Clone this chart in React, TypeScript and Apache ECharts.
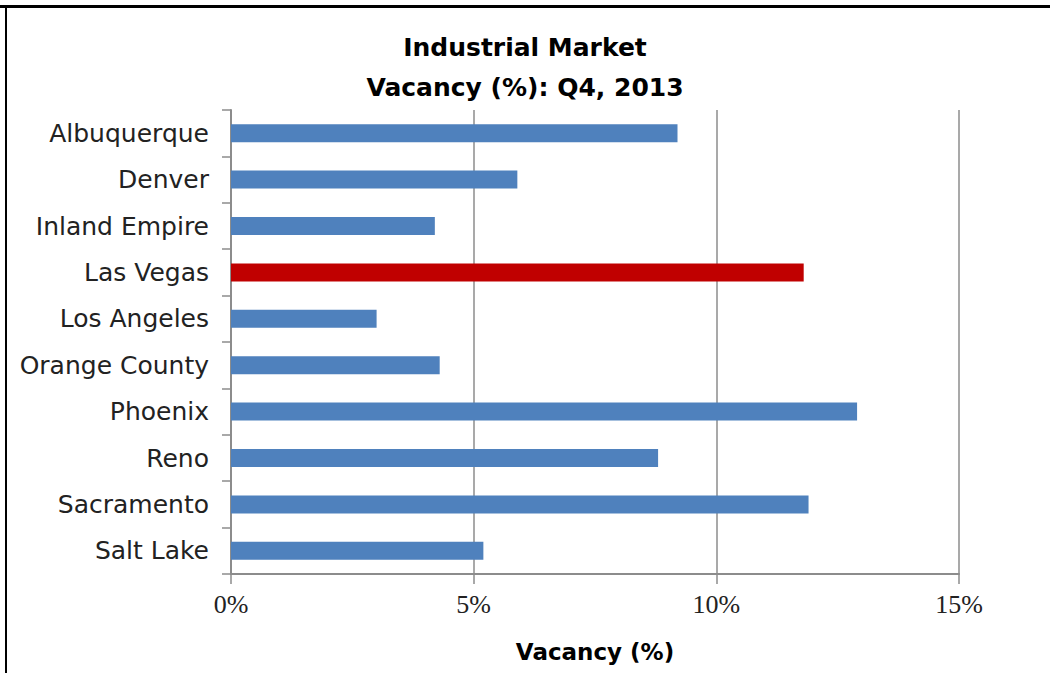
import React, { useEffect, useRef } from "react";
import * as echarts from "echarts";

const categories = [
  "Albuquerque",
  "Denver",
  "Inland Empire",
  "Las Vegas",
  "Los Angeles",
  "Orange County",
  "Phoenix",
  "Reno",
  "Sacramento",
  "Salt Lake",
];
const vacancy = [9.2, 5.9, 4.2, 11.8, 3.0, 4.3, 12.9, 8.8, 11.9, 5.2];
const highlight = "Las Vegas";
const xTicks = [0, 5, 10, 15];

export default function App() {
  const ref = useRef<HTMLDivElement>(null);
  useEffect(() => {
    if (!ref.current) return;
    const chart = echarts.init(ref.current, null, { renderer: "svg" });
    const font = "'DejaVu Sans', sans-serif";
    chart.setOption({
      animation: false,
      backgroundColor: "#ffffff",
      title: {
        text: "Industrial Market\nVacancy (%): Q4, 2013",
        left: "center",
        top: 22,
        textStyle: {
          fontFamily: font,
          fontSize: 25,
          fontWeight: "bold",
          color: "#000",
          lineHeight: 40,
        },
      },
      graphic: [
        { type: "rect", shape: { x: 0, y: 5, width: 1050, height: 3 }, style: { fill: "#000" } },
        { type: "rect", shape: { x: 5, y: 5, width: 2, height: 668 }, style: { fill: "#000" } },
      ],
      grid: { left: 231, right: 91, top: 110, bottom: 99, containLabel: false },
      xAxis: {
        type: "value",
        min: xTicks[0],
        max: xTicks[xTicks.length - 1],
        interval: 5,
        name: "Vacancy (%)",
        nameLocation: "middle",
        nameGap: 66,
        nameTextStyle: { fontFamily: font, fontSize: 23, fontWeight: "bold", color: "#000" },
        axisLine: { show: true, lineStyle: { color: "#8c8c8c", width: 2 } },
        axisTick: { show: true, length: 10, lineStyle: { color: "#8c8c8c", width: 1.5 } },
        axisLabel: {
          formatter: "{value}%",
          margin: 17,
          fontFamily: "'Liberation Serif', serif",
          fontSize: 26,
          color: "#222",
        },
        splitLine: { show: true, lineStyle: { color: "#8c8c8c", width: 1.5 } },
      },
      yAxis: {
        type: "category",
        data: categories,
        inverse: true,
        axisLine: { show: true, lineStyle: { color: "#8c8c8c", width: 2 } },
        axisTick: { show: true, length: 9, lineStyle: { color: "#8c8c8c", width: 1.5 } },
        axisLabel: {
          margin: 22,
          fontFamily: font,
          fontSize: 25,
          color: "#222",
        },
      },
      series: [
        {
          type: "bar",
          data: vacancy.map((v, i) => ({
            value: v,
            itemStyle: { color: categories[i] === highlight ? "#C00000" : "#4F81BD" },
          })),
          barWidth: 18,
        },
      ],
    });
    return () => chart.dispose();
  }, []);
  return (
    <div
      ref={ref}
      style={{ position: "fixed", left: 0, top: 0, width: 1050, height: 673 }}
    />
  );
}
